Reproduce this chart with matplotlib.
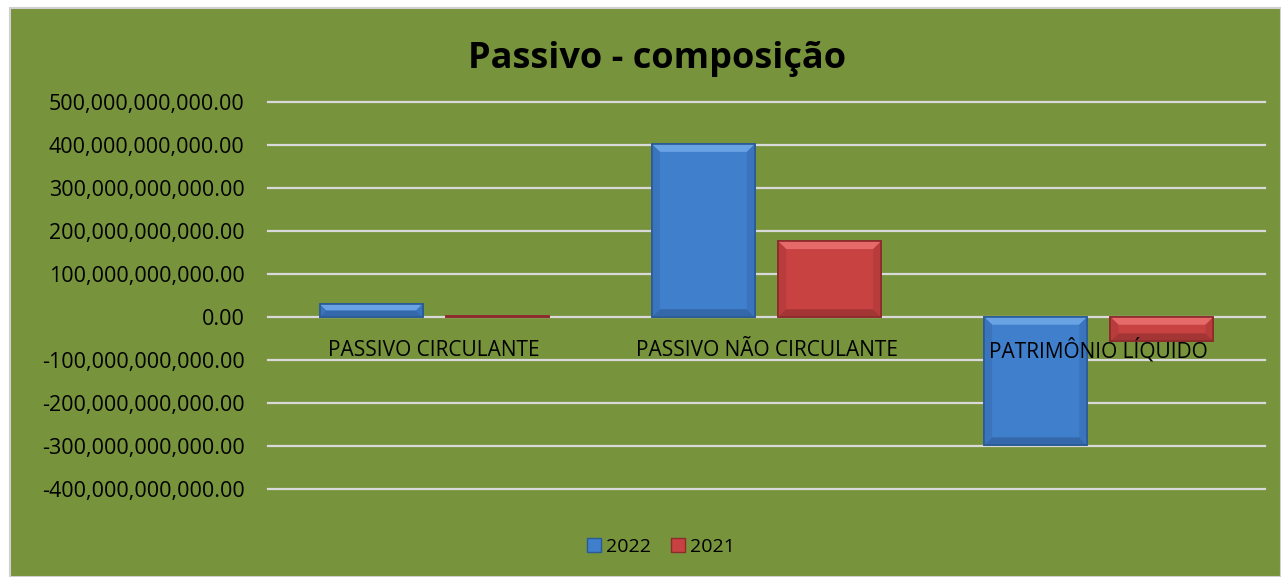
import matplotlib.pyplot as plt
import numpy as np
from matplotlib.patches import Patch, Rectangle, Polygon
from matplotlib.ticker import FuncFormatter

# data
categories = ['PASSIVO CIRCULANTE', 'PASSIVO NÃO CIRCULANTE', 'PATRIMÔNIO LÍQUIDO']
v2022 = [30e9, 402e9, -298e9]
v2021 = [3e9, 176e9, -56e9]
series_names = ['2022', '2021']
yticks = np.arange(-400e9, 500e9 + 1, 100e9)

plt.rcParams['font.family'] = ['Open Sans', 'DejaVu Sans']

W, H = 1281, 577
fig = plt.figure(figsize=(W / 100, H / 100), dpi=100, facecolor='white')

# green chart area with light border (behind the axes)
bg = Rectangle((10 / W, 0), 1 - 10 / W, 1 - 8 / H, transform=fig.transFigure,
               facecolor='#77933C', edgecolor='#D0D0D0', linewidth=1.5, zorder=-5)
fig.patches.append(bg)

ax = fig.add_axes([268 / W, 1 - 489 / H, (1265 - 268) / W, (489 - 102) / H])
ax.set_facecolor('none')

x = np.arange(len(categories))
w = 0.31
off = 0.19
# face, edge, top bevel, bottom bevel, side bevel
blue = ('#3F7FCB', '#2A5B96', '#6AA3E4', '#3468AA', '#3A74BC')
red = ('#C84242', '#8C2B2B', '#E66A6A', '#A33535', '#B83C3C')
b1 = ax.bar(x - off, v2022, w, color=blue[0], edgecolor=blue[1], linewidth=1.2, zorder=3)
b2 = ax.bar(x + off, v2021, w, color=red[0], edgecolor=red[1], linewidth=1.2, zorder=3)

ax.set_ylim(-400e9, 500e9)
ax.set_xlim(-0.5, len(categories) - 0.5)


def bevel(bars, cols):
    # fake the Excel bevel with four trapezoids on each bar
    for r in bars:
        x0, y0 = r.get_x(), min(r.get_y(), r.get_y() + r.get_height())
        bw, bh = r.get_width(), abs(r.get_height())
        x1, y1 = x0 + bw, y0 + bh
        dx = 0.024
        dy = min(18e9, bh / 2)
        ddx = dx * dy / 18e9
        top = [(x0, y1), (x1, y1), (x1 - ddx, y1 - dy), (x0 + ddx, y1 - dy)]
        bot = [(x0, y0), (x1, y0), (x1 - ddx, y0 + dy), (x0 + ddx, y0 + dy)]
        left = [(x0, y0), (x0, y1), (x0 + ddx, y1 - dy), (x0 + ddx, y0 + dy)]
        right = [(x1, y0), (x1, y1), (x1 - ddx, y1 - dy), (x1 - ddx, y0 + dy)]
        for pts, c in [(top, cols[2]), (bot, cols[3]), (left, cols[4]), (right, cols[4])]:
            ax.add_patch(Polygon(pts, closed=True, facecolor=c, edgecolor='none', zorder=4))
        ax.add_patch(Rectangle((x0, y0), bw, bh, facecolor='none', edgecolor=cols[1],
                               linewidth=1.2, zorder=5))


bevel(b1, blue)
bevel(b2, red)

ax.set_yticks(yticks)
ax.yaxis.set_major_formatter(FuncFormatter(lambda v, p: '{:,.2f}'.format(v)))
ax.tick_params(axis='y', length=0, pad=17, labelsize=15.5, labelcolor='black')
ax.set_xticks([])
for s in ax.spines.values():
    s.set_visible(False)
ax.grid(axis='y', color='#D9D9D9', linewidth=1.6, zorder=1)
for gl in ax.get_ygridlines():
    gl.set_clip_on(False)

for i, c in enumerate(categories):
    ax.text(i, -77e9, c, ha='center', va='center', fontsize=15, color='black', zorder=6)

fig.text(657 / W, 1 - 59 / H, 'Passivo - composição', ha='center', va='center',
         fontsize=26, fontweight='bold', color='black')

handles = [Patch(facecolor=blue[0], edgecolor=blue[1]), Patch(facecolor=red[0], edgecolor=red[1])]
fig.legend(handles, series_names, loc='center', bbox_to_anchor=(661 / W, 1 - 547 / H),
           ncol=2, frameon=False, fontsize=14, handlelength=0.75, handleheight=0.75,
           handletextpad=0.25, columnspacing=1.0)

fig.savefig('out.png', dpi=100, facecolor='white')
